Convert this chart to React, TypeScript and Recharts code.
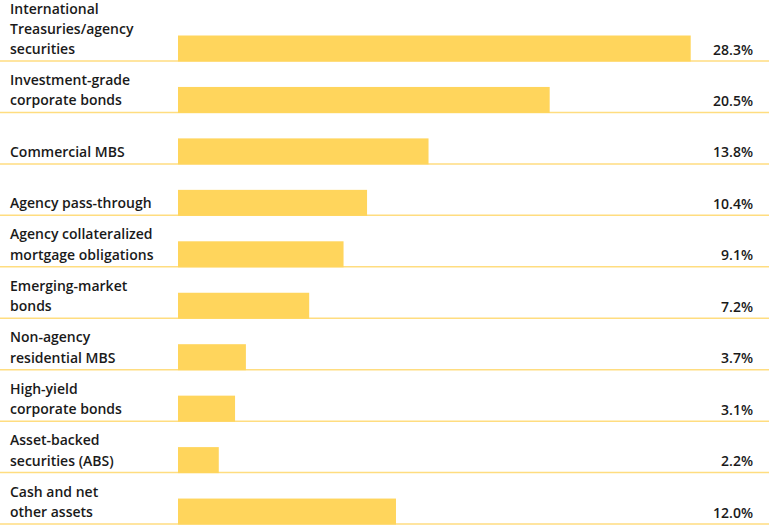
import React from "react"
import { BarChart, Bar, XAxis, YAxis } from "recharts"

const categories = [
  "International|Treasuries/agency|securities",
  "Investment-grade|corporate bonds",
  "Commercial MBS",
  "Agency pass-through",
  "Agency collateralized|mortgage obligations",
  "Emerging-market|bonds",
  "Non-agency|residential MBS",
  "High-yield|corporate bonds",
  "Asset-backed|securities (ABS)",
  "Cash and net|other assets",
]

const weights = [28.3, 20.5, 13.8, 10.4, 9.1, 7.2, 3.7, 3.1, 2.2, 12.0]

const xMax = 31.8

const data = categories.map((name, i) => ({ name, value: weights[i] }))

const BAR_COLOR = "#FFD55C"
const RULE_COLOR = "#FFDD80"
const TEXT_COLOR = "#1a1a1a"
const FONT = "'Open Sans', sans-serif"
const BAR_H = 26

function RowShape(props: any) {
  const { x, y, width, height, background, value } = props
  const bottom = y + height
  const right = background.x + background.width
  return (
    <g>
      <line x1={0} x2="100%" y1={bottom - 0.5} y2={bottom - 0.5} stroke={RULE_COLOR} strokeWidth={1.5} />
      <rect x={x} y={bottom - BAR_H} width={width + 1} height={BAR_H} fill={BAR_COLOR} />
      <text
        x={right}
        y={bottom - 7}
        textAnchor="end"
        fontFamily={FONT}
        fontWeight={600}
        fontSize={14}
        fill={TEXT_COLOR}
      >
        {value.toFixed(1)}%
      </text>
    </g>
  )
}

function LabelTick(props: any) {
  const { y, payload } = props
  const lines: string[] = String(payload.value).split("|")
  const half = payload.offset ?? 25.7
  const lastBase = y + half - 8
  const step = lines.length > 2 ? 20 : 20.5
  return (
    <text fontFamily={FONT} fontWeight={600} fontSize={14} fill={TEXT_COLOR} textAnchor="start">
      {lines.map((l, i) => (
        <tspan key={i} x={10} y={lastBase - (lines.length - 1 - i) * step}>
          {l}
        </tspan>
      ))}
    </text>
  )
}

export default function App() {
  return (
    <div style={{ position: "absolute", left: 0, top: 0, background: "#fff" }}>
      <BarChart
        width={769}
        height={528}
        data={data}
        layout="vertical"
        margin={{ top: 10.5, right: 16, bottom: 3, left: 0 }}
        barCategoryGap={0}
      >
        <XAxis type="number" domain={[0, xMax]} hide />
        <YAxis
          type="category"
          dataKey="name"
          width={178}
          axisLine={false}
          tickLine={false}
          tick={<LabelTick />}
          interval={0}
        />
        <Bar dataKey="value" isAnimationActive={false} shape={<RowShape />} />
      </BarChart>
    </div>
  )
}
